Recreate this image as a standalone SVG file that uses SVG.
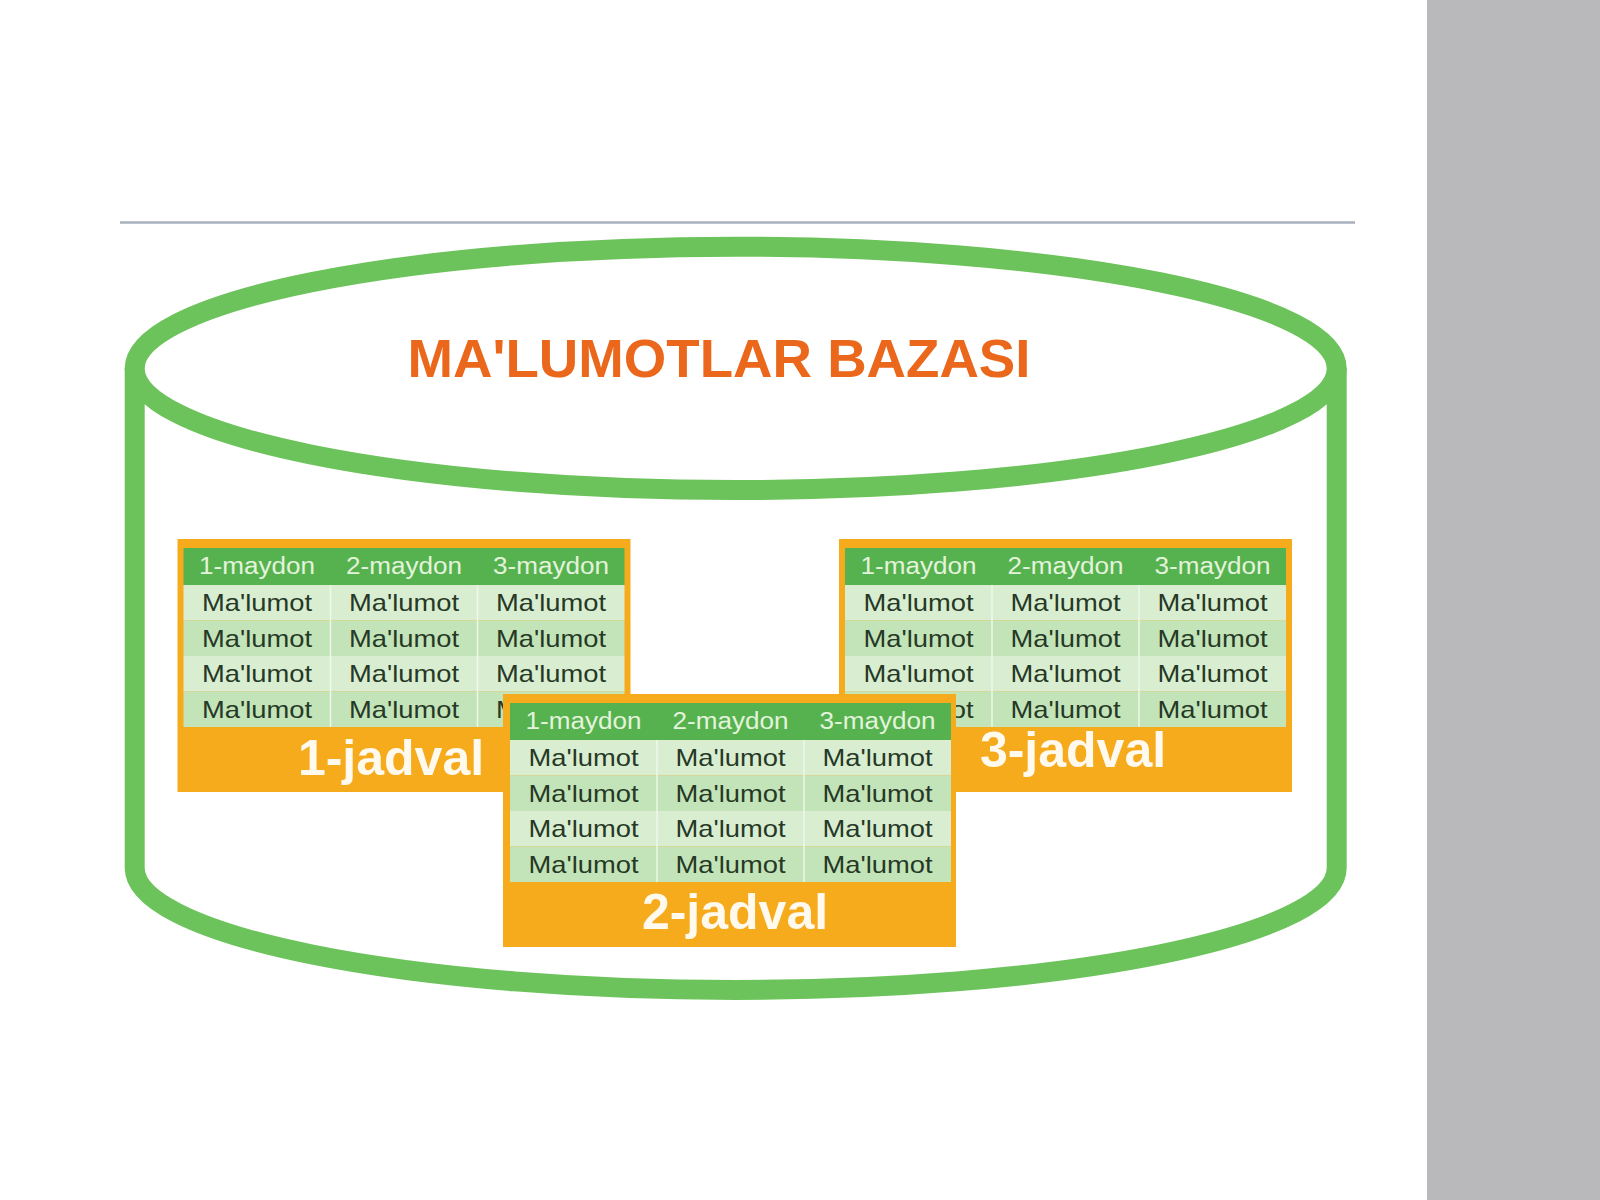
<svg xmlns="http://www.w3.org/2000/svg" width="1600" height="1200" viewBox="0 0 1600 1200">
<style>
.cyl{fill:#ffffff;stroke:#6dc35b;stroke-width:20}
.box{fill:#f6ab1d}
.hdr{fill:#56b24f}
.rA{fill:#d9eed1}
.rB{fill:#c3e4b8}
.sep{stroke:#eef7ea;stroke-width:1.5}
.ht{font-family:"Liberation Sans",Arial,sans-serif;font-size:23px;fill:#e4f3dc;text-anchor:middle}
.dt{font-family:"Liberation Sans",Arial,sans-serif;font-size:24px;fill:#263826;text-anchor:middle}
.lbl{font-family:"Liberation Sans",Arial,sans-serif;font-size:50px;font-weight:bold;fill:#fff9ee;text-anchor:middle}
.title{font-family:"Liberation Sans",Arial,sans-serif;font-size:54px;font-weight:bold;fill:#ea671b;text-anchor:middle}
</style>
<rect x="0" y="0" width="1600" height="1200" fill="#ffffff"/>
<rect id="sidebar" x="1427" y="0" width="173" height="1200" fill="#b9b9bb"/>
<line id="rule" x1="120" y1="222.5" x2="1355" y2="222.5" stroke="#a9b0bd" stroke-width="2.5"/>

<g id="cylinder">
<path class="cyl" d="M134.7 368 L134.7 868 A601 122 0 0 0 1336.7 868 L1336.7 368"/>
<ellipse class="cyl" cx="735.7" cy="368.4" rx="601" ry="121.7"/>
<text class="title" x="719" y="377" textLength="623" lengthAdjust="spacingAndGlyphs">MA'LUMOTLAR BAZASI</text>
</g>

<g id="table1">
<rect class="box" x="177.5" y="539" width="453" height="253"/>
<rect class="hdr" x="183.5" y="548" width="441" height="37"/>
<rect class="rA" x="183.5" y="585" width="441" height="35.5"/>
<rect class="rB" x="183.5" y="620.5" width="441" height="35.5"/>
<rect class="rA" x="183.5" y="656" width="441" height="35.5"/>
<rect class="rB" x="183.5" y="691.5" width="441" height="35.5"/>
<line class="sep" x1="330.5" y1="585" x2="330.5" y2="727"/>
<line class="sep" x1="477.5" y1="585" x2="477.5" y2="727"/>
<text class="ht" x="257" y="574" textLength="116" lengthAdjust="spacingAndGlyphs">1-maydon</text>
<text class="ht" x="404" y="574" textLength="116" lengthAdjust="spacingAndGlyphs">2-maydon</text>
<text class="ht" x="551" y="574" textLength="116" lengthAdjust="spacingAndGlyphs">3-maydon</text>
<text class="dt" x="257" y="611" textLength="110" lengthAdjust="spacingAndGlyphs">Ma'lumot</text>
<text class="dt" x="404" y="611" textLength="110" lengthAdjust="spacingAndGlyphs">Ma'lumot</text>
<text class="dt" x="551" y="611" textLength="110" lengthAdjust="spacingAndGlyphs">Ma'lumot</text>
<text class="dt" x="257" y="646.5" textLength="110" lengthAdjust="spacingAndGlyphs">Ma'lumot</text>
<text class="dt" x="404" y="646.5" textLength="110" lengthAdjust="spacingAndGlyphs">Ma'lumot</text>
<text class="dt" x="551" y="646.5" textLength="110" lengthAdjust="spacingAndGlyphs">Ma'lumot</text>
<text class="dt" x="257" y="682" textLength="110" lengthAdjust="spacingAndGlyphs">Ma'lumot</text>
<text class="dt" x="404" y="682" textLength="110" lengthAdjust="spacingAndGlyphs">Ma'lumot</text>
<text class="dt" x="551" y="682" textLength="110" lengthAdjust="spacingAndGlyphs">Ma'lumot</text>
<text class="dt" x="257" y="717.5" textLength="110" lengthAdjust="spacingAndGlyphs">Ma'lumot</text>
<text class="dt" x="404" y="717.5" textLength="110" lengthAdjust="spacingAndGlyphs">Ma'lumot</text>
<text class="dt" x="551" y="717.5" textLength="110" lengthAdjust="spacingAndGlyphs">Ma'lumot</text>
<text class="lbl" x="391" y="775">1-jadval</text>
</g>

<g id="table3">
<rect class="box" x="839" y="539" width="453" height="253"/>
<rect class="hdr" x="845" y="548" width="441" height="37"/>
<rect class="rA" x="845" y="585" width="441" height="35.5"/>
<rect class="rB" x="845" y="620.5" width="441" height="35.5"/>
<rect class="rA" x="845" y="656" width="441" height="35.5"/>
<rect class="rB" x="845" y="691.5" width="441" height="35.5"/>
<line class="sep" x1="992" y1="585" x2="992" y2="727"/>
<line class="sep" x1="1139" y1="585" x2="1139" y2="727"/>
<text class="ht" x="918.5" y="574" textLength="116" lengthAdjust="spacingAndGlyphs">1-maydon</text>
<text class="ht" x="1065.5" y="574" textLength="116" lengthAdjust="spacingAndGlyphs">2-maydon</text>
<text class="ht" x="1212.5" y="574" textLength="116" lengthAdjust="spacingAndGlyphs">3-maydon</text>
<text class="dt" x="918.5" y="611" textLength="110" lengthAdjust="spacingAndGlyphs">Ma'lumot</text>
<text class="dt" x="1065.5" y="611" textLength="110" lengthAdjust="spacingAndGlyphs">Ma'lumot</text>
<text class="dt" x="1212.5" y="611" textLength="110" lengthAdjust="spacingAndGlyphs">Ma'lumot</text>
<text class="dt" x="918.5" y="646.5" textLength="110" lengthAdjust="spacingAndGlyphs">Ma'lumot</text>
<text class="dt" x="1065.5" y="646.5" textLength="110" lengthAdjust="spacingAndGlyphs">Ma'lumot</text>
<text class="dt" x="1212.5" y="646.5" textLength="110" lengthAdjust="spacingAndGlyphs">Ma'lumot</text>
<text class="dt" x="918.5" y="682" textLength="110" lengthAdjust="spacingAndGlyphs">Ma'lumot</text>
<text class="dt" x="1065.5" y="682" textLength="110" lengthAdjust="spacingAndGlyphs">Ma'lumot</text>
<text class="dt" x="1212.5" y="682" textLength="110" lengthAdjust="spacingAndGlyphs">Ma'lumot</text>
<text class="dt" x="918.5" y="717.5" textLength="110" lengthAdjust="spacingAndGlyphs">Ma'lumot</text>
<text class="dt" x="1065.5" y="717.5" textLength="110" lengthAdjust="spacingAndGlyphs">Ma'lumot</text>
<text class="dt" x="1212.5" y="717.5" textLength="110" lengthAdjust="spacingAndGlyphs">Ma'lumot</text>
<text class="lbl" x="1073" y="767">3-jadval</text>
</g>

<g id="table2">
<rect class="box" x="503" y="694" width="453" height="253"/>
<rect class="hdr" x="510" y="703" width="441" height="37"/>
<rect class="rA" x="510" y="740" width="441" height="35.5"/>
<rect class="rB" x="510" y="775.5" width="441" height="35.5"/>
<rect class="rA" x="510" y="811" width="441" height="35.5"/>
<rect class="rB" x="510" y="846.5" width="441" height="35.5"/>
<line class="sep" x1="657" y1="740" x2="657" y2="882"/>
<line class="sep" x1="804" y1="740" x2="804" y2="882"/>
<text class="ht" x="583.5" y="729" textLength="116" lengthAdjust="spacingAndGlyphs">1-maydon</text>
<text class="ht" x="730.5" y="729" textLength="116" lengthAdjust="spacingAndGlyphs">2-maydon</text>
<text class="ht" x="877.5" y="729" textLength="116" lengthAdjust="spacingAndGlyphs">3-maydon</text>
<text class="dt" x="583.5" y="766" textLength="110" lengthAdjust="spacingAndGlyphs">Ma'lumot</text>
<text class="dt" x="730.5" y="766" textLength="110" lengthAdjust="spacingAndGlyphs">Ma'lumot</text>
<text class="dt" x="877.5" y="766" textLength="110" lengthAdjust="spacingAndGlyphs">Ma'lumot</text>
<text class="dt" x="583.5" y="801.5" textLength="110" lengthAdjust="spacingAndGlyphs">Ma'lumot</text>
<text class="dt" x="730.5" y="801.5" textLength="110" lengthAdjust="spacingAndGlyphs">Ma'lumot</text>
<text class="dt" x="877.5" y="801.5" textLength="110" lengthAdjust="spacingAndGlyphs">Ma'lumot</text>
<text class="dt" x="583.5" y="837" textLength="110" lengthAdjust="spacingAndGlyphs">Ma'lumot</text>
<text class="dt" x="730.5" y="837" textLength="110" lengthAdjust="spacingAndGlyphs">Ma'lumot</text>
<text class="dt" x="877.5" y="837" textLength="110" lengthAdjust="spacingAndGlyphs">Ma'lumot</text>
<text class="dt" x="583.5" y="872.5" textLength="110" lengthAdjust="spacingAndGlyphs">Ma'lumot</text>
<text class="dt" x="730.5" y="872.5" textLength="110" lengthAdjust="spacingAndGlyphs">Ma'lumot</text>
<text class="dt" x="877.5" y="872.5" textLength="110" lengthAdjust="spacingAndGlyphs">Ma'lumot</text>
<text class="lbl" x="735" y="929">2-jadval</text>
</g>
<g id="connectors"/>
</svg>
